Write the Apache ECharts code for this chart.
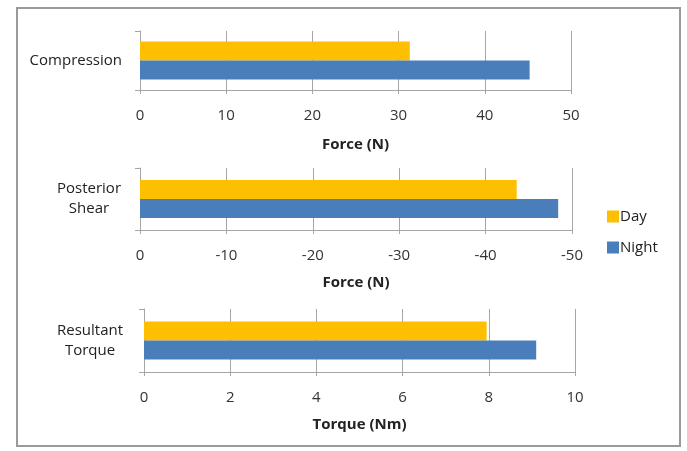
<!DOCTYPE html>
<html><head><meta charset="utf-8">
<script src="https://cdn.jsdelivr.net/npm/echarts@6/dist/echarts.min.js"></script>
<style>html,body{margin:0;padding:0;background:#fff}#c{width:687px;height:451px}</style>
</head><body><div id="c"></div>
<script>
const categories = ['Compression', 'Posterior\nShear', 'Resultant\nTorque'];
const dayValues = [31.3, -43.6, 7.95];
const nightValues = [45.2, -48.4, 9.1];
const axisNames = ['Force (N)', 'Force (N)', 'Torque (Nm)'];
const axisMin = [0, -50, 0];
const axisMax = [50, 0, 10];
const axisInterval = [10, 10, 2];
const seriesNames = ['Day', 'Night'];

const FONT = 'Open Sans';
const grids = [
  {left: 140, top: 31, width: 431, height: 59},
  {left: 140, top: 168, width: 432, height: 62},
  {left: 144, top: 309, width: 431, height: 63}
];
const catMargins = [18, 51, 54];
const lineC = '#a6a6a6';
const xAxes = grids.map((g, i) => ({
  type: 'value', gridIndex: i, min: axisMin[i], max: axisMax[i], interval: axisInterval[i],
  inverse: i === 1,
  name: axisNames[i], nameLocation: 'middle', nameGap: i === 0 ? 47 : 45,
  nameTextStyle: {fontFamily: FONT, fontSize: 15, fontWeight: 'bold', color: '#222'},
  axisLine: {show: true, lineStyle: {color: lineC}},
  axisTick: {show: true, length: 4, lineStyle: {color: lineC}},
  splitLine: {show: true, lineStyle: {color: lineC}},
  axisLabel: {margin: 18, fontFamily: FONT, fontSize: 15, color: '#333'}
}));
const yAxes = grids.map((g, i) => ({
  type: 'category', gridIndex: i, data: [categories[i]],
  axisLine: {show: true, lineStyle: {color: lineC}},
  axisTick: {show: true, length: 5, lineStyle: {color: lineC}},
  axisLabel: {margin: catMargins[i], fontFamily: FONT, fontSize: 15, color: '#222',
    align: i === 0 ? 'right' : 'center', lineHeight: 20}
}));
const series = [];
grids.forEach((g, i) => {
  series.push({name: 'Day', type: 'bar', xAxisIndex: i, yAxisIndex: i, data: [dayValues[i]],
    barWidth: 19, barGap: '0%', itemStyle: {color: '#fdbf00'}, silent: true});
  series.push({name: 'Night', type: 'bar', xAxisIndex: i, yAxisIndex: i, data: [nightValues[i]],
    barWidth: 19, barGap: '0%', itemStyle: {color: '#4a7ebb'}, silent: true});
});
const chart = echarts.init(document.getElementById('c'), null, {renderer: 'canvas'});
chart.setOption({
  animation: false,
  backgroundColor: '#fff',
  graphic: [{type: 'rect', shape: {x: 17, y: 8, width: 663, height: 438},
    style: {fill: 'none', stroke: '#9a9a9a', lineWidth: 2}, silent: true}],
  legend: {data: seriesNames, orient: 'vertical', left: 602, top: 204, itemWidth: 12, itemHeight: 12,
    itemGap: 16, icon: 'rect', textStyle: {fontFamily: FONT, fontSize: 15, color: '#222', padding: [0,0,0,-4]}},
  grid: grids,
  xAxis: xAxes,
  yAxis: yAxes,
  series: series
});
</script></body></html>
